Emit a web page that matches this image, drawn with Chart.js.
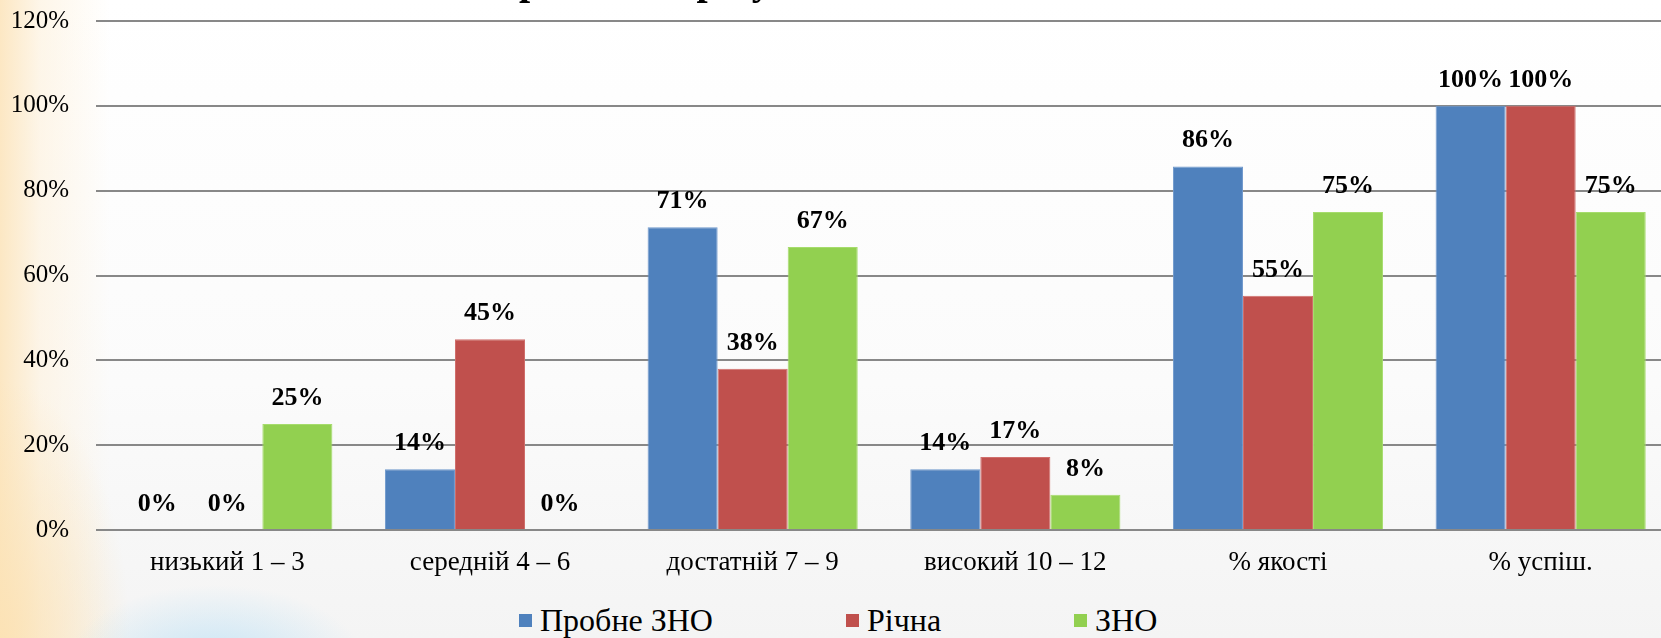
<!DOCTYPE html>
<html>
<head>
<meta charset="utf-8">
<script src="https://cdn.jsdelivr.net/npm/chart.js@4.4.1/dist/chart.umd.min.js"></script>
<style>
    html, body {
        margin: 0;
        padding: 0;
        width: 1661px;
        height: 638px;
        overflow: hidden;
    }
    body {
        position: relative;
        background:
            radial-gradient(ellipse 150px 80px at 215px 665px, rgba(196, 228, 246, 0.95), rgba(196, 228, 246, 0) 100%),
            radial-gradient(ellipse 130px 260px at 0px 640px, rgba(252, 226, 180, 0.9), rgba(252, 226, 180, 0) 100%),
            linear-gradient(90deg, rgba(252, 230, 192, 0.95) 0px, rgba(253, 240, 218, 0.6) 40px, rgba(255, 255, 255, 0) 110px),
            linear-gradient(180deg, #ffffff 0%, #fbfbfb 60%, #f4f4f4 100%);
        font-family: "Liberation Serif", "Times New Roman", serif;
    }
    #chartBox {
        position: absolute;
        left: 0;
        top: 0;
    }
    #legend {
        position: absolute;
        left: 519px;
        top: 601px;
        display: flex;
        gap: 133px;
        font-size: 32px;
        line-height: 38px;
        color: #000;
    }
    .item {
        display: flex;
        align-items: center;
    }
    .swatch {
        width: 13px;
        height: 13px;
        margin-right: 8px;
    }
</style>
</head>
<body>
<div id="chartBox"><canvas id="scoresChart" width="1680" height="600"></canvas></div>
<div id="legend"></div>

<script>
// categories and series (percent)
const categories = ["низький 1 – 3", "середній 4 – 6", "достатній 7 – 9", "високий 10 – 12", "% якості", "% успіш."];
const seriesNames = ["Пробне ЗНО", "Річна", "ЗНО"];
const probneZno = [0, 14.3, 71.4, 14.3, 85.7, 100];
const richna = [0, 45, 38, 17.2, 55.2, 100];
const zno = [25, 0, 66.7, 8.3, 75, 75];
const yTicks = [0, 20, 40, 60, 80, 100, 120];
const titleText = "Порівняння результатів ЗНО";

const colors = ["#4F81BD", "#C0504D", "#92D050"];
const edgeColors = ["#6f98cc", "#d06f6c", "#a6dc6c"];
const serif = "'Liberation Serif', 'Times New Roman', serif";

// value labels above each bar
const valueLabels = {
    id: "valueLabels",
    afterDatasetsDraw(chart) {
        const ctx = chart.ctx;
        ctx.save();
        ctx.font = "bold 26px " + serif;
        ctx.fillStyle = "#000";
        ctx.textAlign = "center";
        ctx.textBaseline = "middle";
        chart.data.datasets.forEach((ds, i) => {
            const meta = chart.getDatasetMeta(i);
            meta.data.forEach((bar, j) => {
                ctx.fillText(Math.round(ds.data[j]) + "%", bar.x, bar.y - 26);
            });
        });
        ctx.restore();
    }
};

// slide title, cut off by the top edge like in the original
const clippedTitle = {
    id: "clippedTitle",
    afterDraw(chart) {
        const ctx = chart.ctx;
        ctx.save();
        ctx.font = "bold 40px " + serif;
        ctx.fillStyle = "#000";
        ctx.textAlign = "left";
        ctx.textBaseline = "alphabetic";
        ctx.fillText(titleText, 468, -6);
        ctx.restore();
    }
};

const datasets = [probneZno, richna, zno].map((vals, i) => ({
    label: seriesNames[i],
    data: vals,
    backgroundColor: colors[i],
    borderColor: edgeColors[i],
    borderWidth: 1,
    categoryPercentage: 0.8,
    barPercentage: 1.0
}));

new Chart(document.getElementById("scoresChart"), {
    type: "bar",
    data: { labels: categories, datasets: datasets },
    options: {
        responsive: false,
        maintainAspectRatio: false,
        animation: false,
        layout: { padding: { top: 21, right: 8, bottom: 0, left: 0 } },
        plugins: {
            legend: { display: false },
            tooltip: { enabled: false },
            title: { display: false }
        },
        scales: {
            x: {
                grid: { display: false, drawTicks: false },
                border: { display: false },
                afterFit(scale) {
                    scale.height = 70;
                    scale.paddingLeft = 0;
                    scale.paddingRight = 0;
                },
                ticks: {
                    color: "#000",
                    padding: 17,
                    maxRotation: 0,
                    autoSkip: false,
                    font: { family: serif, size: 27 }
                }
            },
            y: {
                min: 0,
                max: 120,
                afterBuildTicks(axis) {
                    axis.ticks = yTicks.map(v => ({ value: v }));
                },
                afterFit(scale) {
                    scale.width = 96;
                    scale.paddingTop = 0;
                    scale.paddingBottom = 0;
                },
                grid: { color: "#888888", lineWidth: 2, drawTicks: false },
                border: { display: false },
                ticks: {
                    color: "#000",
                    padding: 27,
                    callback: v => v + "%",
                    font: { family: serif, size: 25 }
                }
            }
        }
    },
    plugins: [valueLabels, clippedTitle]
});

// legend below the chart
const legendBox = document.getElementById("legend");
seriesNames.forEach((name, i) => {
    const item = document.createElement("div");
    item.className = "item";
    item.innerHTML = `<span class="swatch" style="background:${colors[i]}"></span><span>${name}</span>`;
    legendBox.appendChild(item);
});
</script>
</body>
</html>
